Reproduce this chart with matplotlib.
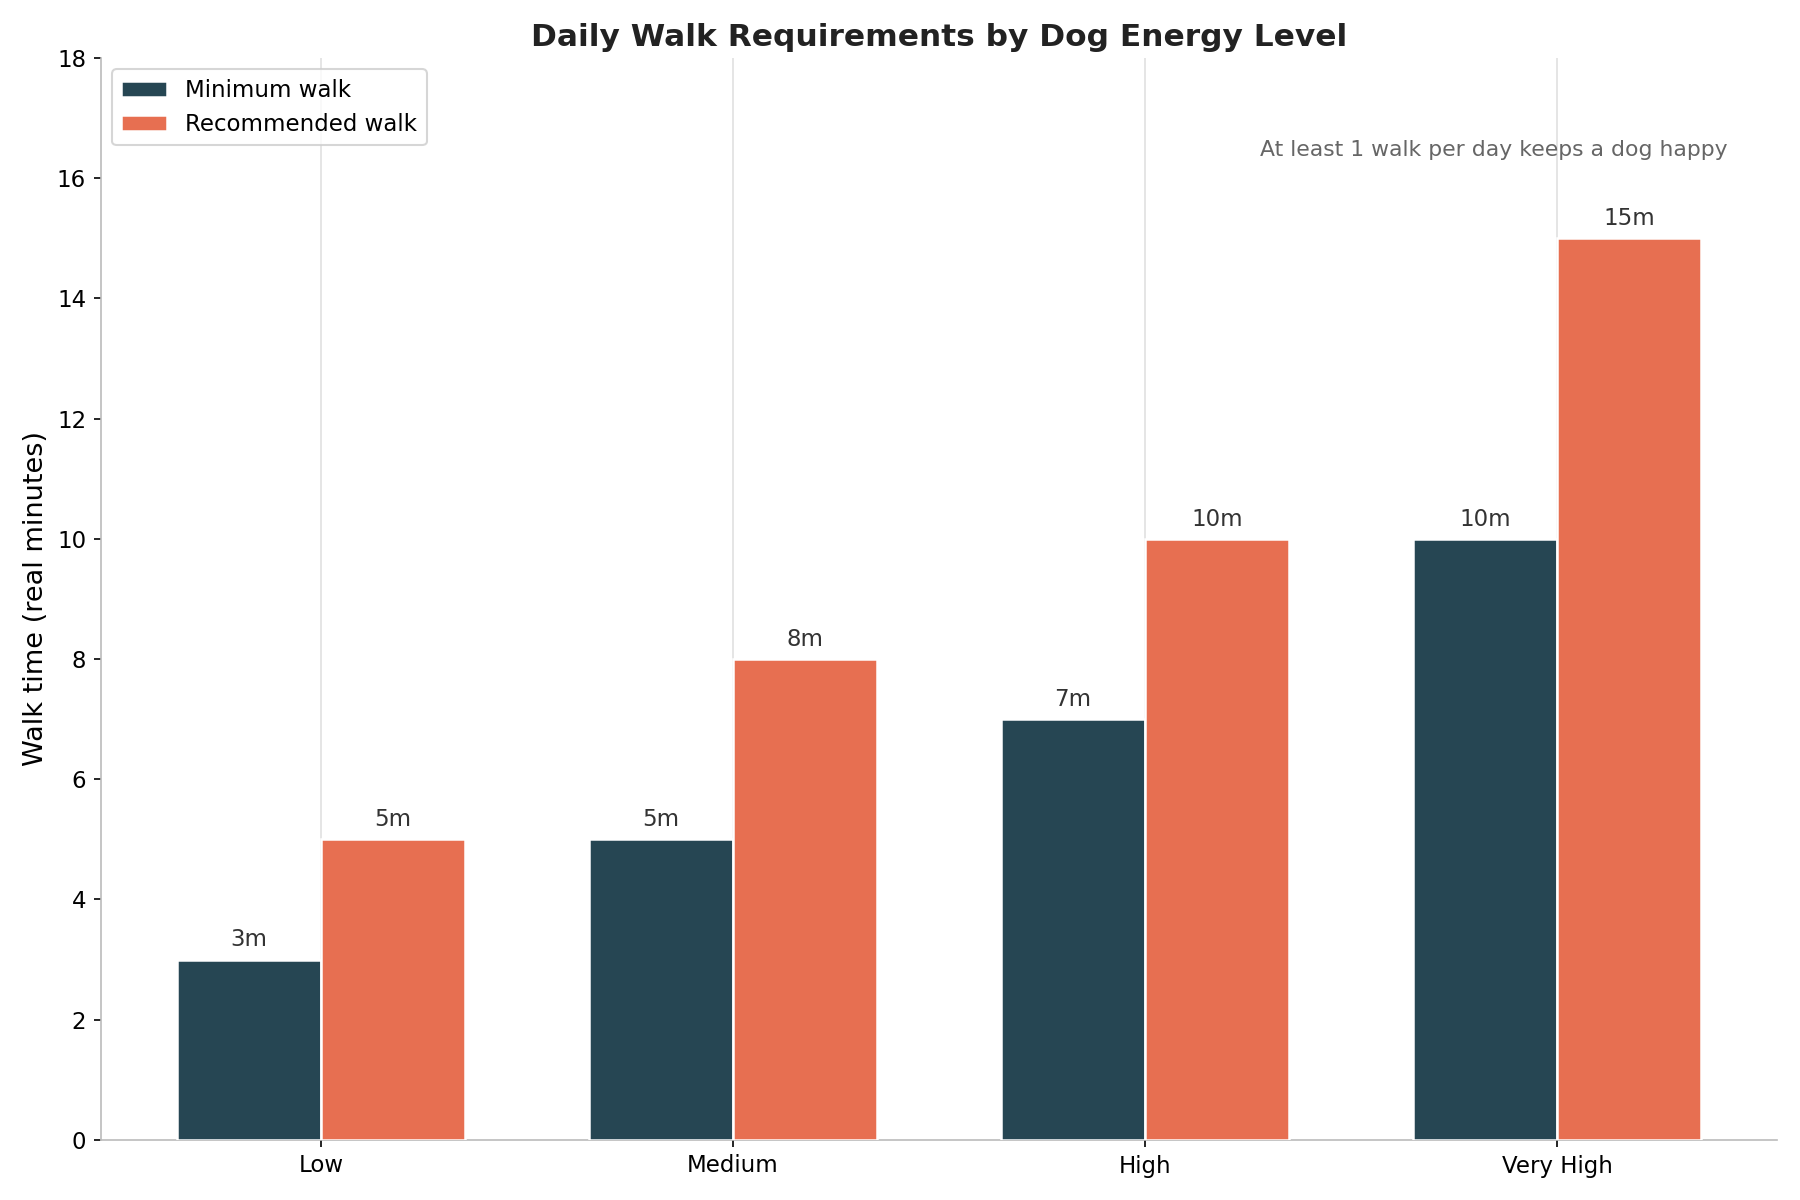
import numpy as np
import matplotlib
matplotlib.use("Agg")
import matplotlib.pyplot as plt

levels = ["Low", "Medium", "High", "Very High"]
minimum = [3, 5, 7, 10]
recommended = [5, 8, 10, 15]

fig, ax = plt.subplots(figsize=(12, 8), dpi=150)
x = np.arange(len(levels))
w = 0.35
b1 = ax.bar(x - w / 2, minimum, w, color="#264653", edgecolor="white", linewidth=1.2, label="Minimum walk", zorder=3)
b2 = ax.bar(x + w / 2, recommended, w, color="#E76F51", edgecolor="white", linewidth=1.2, label="Recommended walk", zorder=3)

for bars in (b1, b2):
    for r in bars:
        ax.annotate("{:d}m".format(int(r.get_height())),
                    (r.get_x() + r.get_width() / 2, r.get_height()),
                    xytext=(0, 4), textcoords="offset points",
                    ha="center", va="bottom", fontsize=11, color="#333333")

ax.set_xticks(x)
ax.set_xticklabels(levels, fontsize=11)
ax.set_ylim(0, 18)
ax.set_yticks(range(0, 19, 2))
ax.tick_params(labelsize=11)
ax.set_ylabel("Walk time (real minutes)", fontsize=13)
ax.set_title("Daily Walk Requirements by Dog Energy Level", fontsize=15, fontweight="bold", color="#222222")
ax.grid(axis="x", color="#e0e0e0", linewidth=0.8, zorder=0)
for s in ("top", "right"):
    ax.spines[s].set_visible(False)
for s in ("left", "bottom"):
    ax.spines[s].set_color("#bbbbbb")
ax.legend(loc="upper left", fontsize=11)
ax.text(0.97, 0.915, "At least 1 walk per day keeps a dog happy", transform=ax.transAxes,
        ha="right", va="center", fontsize=10.5, color="#666666")

fig.tight_layout()
fig.savefig("out.png")
